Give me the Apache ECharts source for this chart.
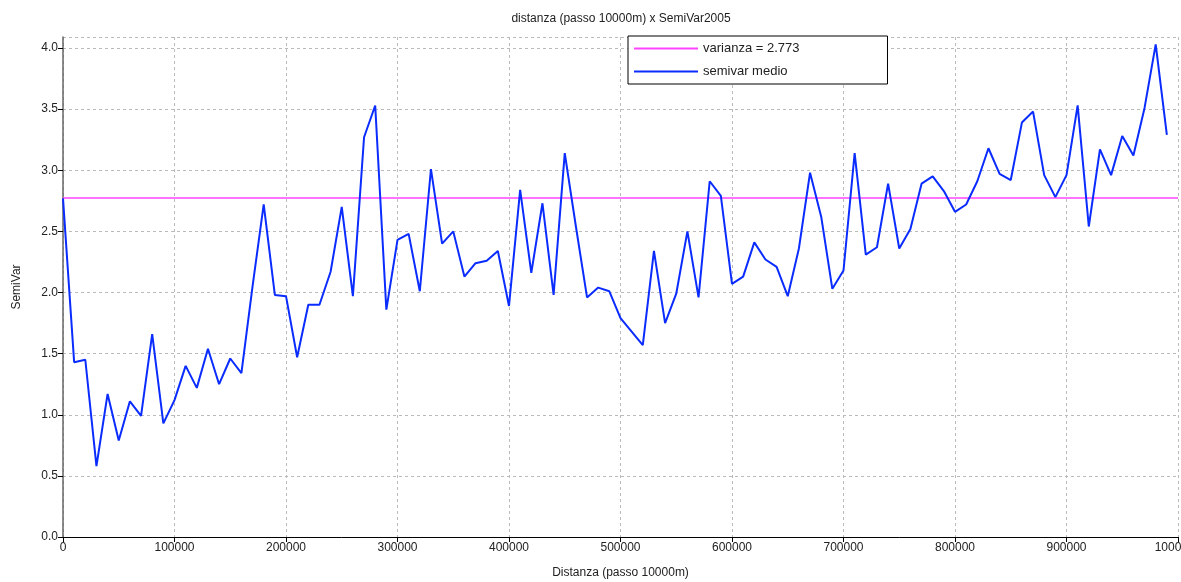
<!DOCTYPE html>
<html>
<head>
<meta charset="utf-8">
<script src="https://cdn.jsdelivr.net/npm/echarts@6/dist/echarts.min.js"></script>
<style>
  html, body { margin: 0; padding: 0; background: #fff; }
  #chart { width: 1181px; height: 582px; }
</style>
</head>
<body>
<div id="chart"></div>
<script>
// distance step 10000 m
const distanze = [];
for (let i = 0; i < 100; i++) distanze.push(i * 10000);

const semivarMedio = [
  2.77, 1.43, 1.45, 0.58, 1.17, 0.79, 1.11, 0.99, 1.66, 0.93,
  1.12, 1.40, 1.22, 1.54, 1.25, 1.46, 1.34, 2.05, 2.72, 1.98,
  1.97, 1.47, 1.90, 1.90, 2.17, 2.70, 1.97, 3.27, 3.53, 1.86,
  2.43, 2.48, 2.01, 3.01, 2.40, 2.50, 2.13, 2.24, 2.26, 2.34,
  1.89, 2.84, 2.16, 2.73, 1.98, 3.14, 2.54, 1.96, 2.04, 2.01,
  1.79, 1.68, 1.57, 2.34, 1.75, 1.99, 2.50, 1.96, 2.91, 2.79,
  2.07, 2.13, 2.41, 2.27, 2.21, 1.97, 2.36, 2.98, 2.62, 2.03,
  2.18, 3.14, 2.31, 2.37, 2.89, 2.36, 2.52, 2.89, 2.95, 2.83,
  2.66, 2.72, 2.91, 3.18, 2.97, 2.92, 3.39, 3.48, 2.96, 2.78,
  2.96, 3.53, 2.54, 3.17, 2.96, 3.28, 3.12, 3.51, 4.03, 3.29
];

const varianza = 2.773;
const varianzaX = [0, 1000000];

const serieNames = ['varianza = ' + varianza, 'semivar medio'];

const chart = echarts.init(document.getElementById('chart'));
const font = 'Liberation Sans, Arial, sans-serif';

chart.setOption({
  animation: false,
  textStyle: { fontFamily: font },
  title: {
    text: 'distanza (passo 10000m) x SemiVar2005',
    left: 616,
    textAlign: 'center',
    top: 8,
    textStyle: { fontSize: 12, fontWeight: 'normal', color: '#222', fontFamily: font }
  },
  legend: {
    orient: 'vertical',
    left: 628,
    top: 36,
    data: serieNames,
    icon: 'rect',
    itemWidth: 64,
    itemHeight: 2,
    itemGap: 10,
    padding: [6, 88, 6, 6],
    borderColor: '#000',
    borderWidth: 1,
    backgroundColor: '#fff',
    textStyle: { fontSize: 13, color: '#222', fontFamily: font }
  },
  grid: { left: 63, right: 3, top: 37, bottom: 45, outerBoundsMode: 'none', containLabel: false },
  xAxis: {
    type: 'value',
    min: 0,
    max: 1000000,
    interval: 100000,
    name: 'Distanza (passo 10000m)',
    nameLocation: 'middle',
    nameGap: 30,
    nameTextStyle: { fontSize: 12, color: '#222', fontFamily: font },
    axisLine: { onZero: false, lineStyle: { color: '#000', width: 1 } },
    axisTick: { show: true, length: 5, lineStyle: { color: '#000' } },
    axisLabel: {
      fontSize: 12, color: '#222', margin: 5, fontFamily: font,
      alignMaxLabel: 'center',
      formatter: v => String(v)
    },
    splitLine: { show: true, lineStyle: { color: '#bbb', type: [3, 3] } }
  },
  yAxis: {
    type: 'value',
    min: 0,
    max: 4.09,
    interval: 0.5,
    name: 'SemiVar',
    nameLocation: 'middle',
    nameGap: 40,
    nameTextStyle: { fontSize: 12, color: '#222', fontFamily: font },
    axisLine: { show: true, lineStyle: { color: '#666', width: 1.5 } },
    axisTick: { show: true, length: 5, lineStyle: { color: '#000' } },
    axisLabel: {
      fontSize: 12, color: '#222', margin: 5, fontFamily: font,
      formatter: v => v.toFixed(1)
    },
    splitLine: { show: true, lineStyle: { color: '#bbb', type: [3, 3] } }
  },
  series: [
    {
      name: serieNames[0],
      type: 'line',
      data: varianzaX.map(x => [x, varianza]),
      showSymbol: false,
      symbol: 'none',
      itemStyle: { color: '#ff44ff' },
      lineStyle: { color: '#ff44ff', width: 1.5 },
      z: 2
    },
    {
      name: serieNames[1],
      type: 'line',
      data: distanze.map((d, i) => [d, semivarMedio[i]]),
      showSymbol: false,
      symbol: 'none',
      itemStyle: { color: '#0a2cff' },
      lineStyle: { color: '#0a2cff', width: 2 },
      z: 3
    }
  ]
});
</script>
</body>
</html>
